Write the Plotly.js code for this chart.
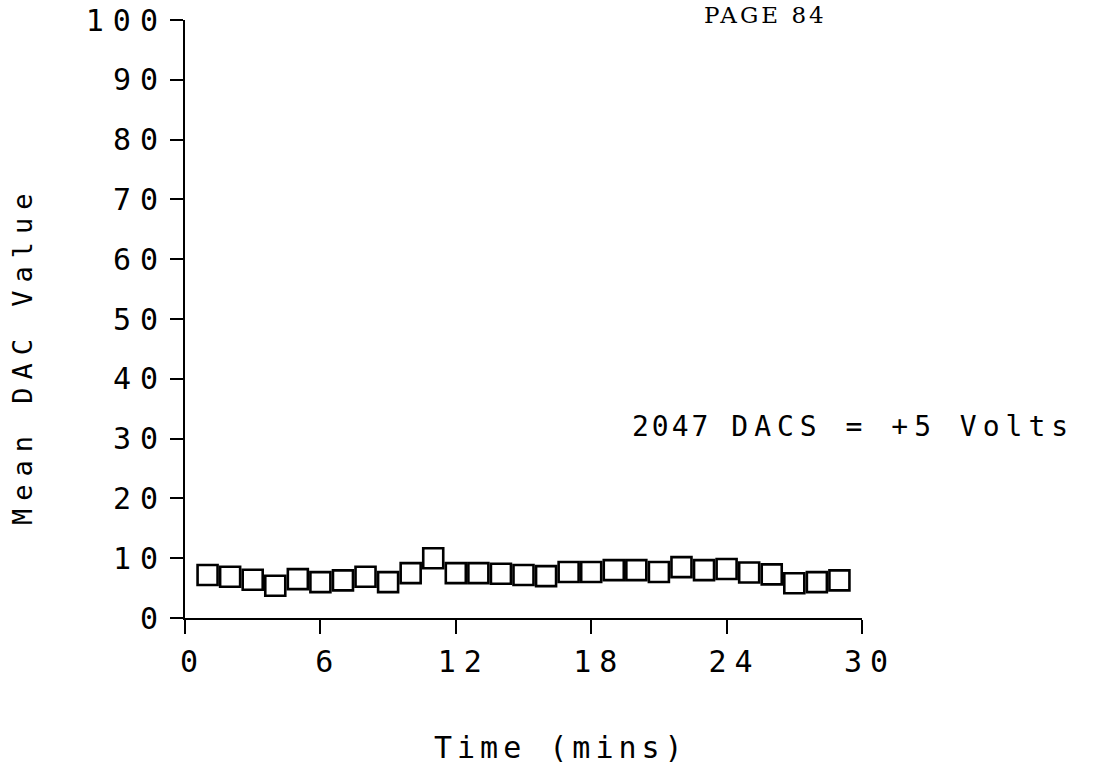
<!DOCTYPE html>
<html><head><meta charset="utf-8">
<script src="https://cdn.plot.ly/plotly-3.0.1.min.js"></script>
<style>body{margin:0;background:#fff}#c{width:1104px;height:768px}</style>
</head><body><div id="c"></div>
<script>
var timeMins = [1,2,3,4,5,6,7,8,9,10,11,12,13,14,15,16,17,18,19,20,21,22,23,24,25,26,27,28,29];
var meanDac = [7.2,6.9,6.4,5.4,6.5,6.0,6.3,6.9,6.0,7.5,10.0,7.5,7.5,7.4,7.2,7.0,7.7,7.7,8.0,8.0,7.7,8.5,8.0,8.2,7.6,7.3,5.8,6.0,6.3];
var xTicks = [0,6,12,18,24,30];
var yTicks = [0,10,20,30,40,50,60,70,80,90,100];
var xTitle = 'Time (mins)';
var yTitle = 'Mean DAC Value';
var noteNum = '2047';
var noteText = 'DACS = +5 Volts';
var pageLabel = 'PAGE 84';

var font = "DejaVu Sans Mono, monospace";
function spaced(s, px) { return '<span style="letter-spacing:' + px + 'px">' + s + '</span>'; }

var trace = {
  x: timeMins, y: meanDac, mode: 'markers', type: 'scatter',
  marker: {symbol: 'square-open', size: 20, color: '#000', line: {width: 2.6, color: '#000'}},
  hoverinfo: 'none'
};
var layout = {
  width: 1104, height: 768,
  margin: {l: 185, r: 242, t: 20, b: 150},
  paper_bgcolor: '#fff', plot_bgcolor: '#fff',
  showlegend: false,
  xaxis: {range: [0, 30], tickvals: xTicks, ticktext: xTicks.map(function (v) { return spaced(String(v), 8); }),
    ticks: 'outside', ticklen: 14, tickwidth: 2, tickcolor: '#000',
    showline: true, linewidth: 2, linecolor: '#000', showgrid: false, zeroline: false,
    tickfont: {family: font, size: 30, color: '#000'}, ticklabelstandoff: 2, ticklabelshift: 8},
  yaxis: {range: [0, 100], tickvals: yTicks, ticktext: yTicks.map(function (v) { return spaced(String(v), 9); }),
    ticks: 'outside', ticklen: 13, tickwidth: 2, tickcolor: '#000',
    showline: true, linewidth: 2, linecolor: '#000', showgrid: false, zeroline: false,
    tickfont: {family: font, size: 30, color: '#000'}, ticklabelstandoff: -3},
  annotations: [
    {text: spaced(pageLabel, 3), xref: 'paper', yref: 'paper', x: 0.857, y: 1.008, xanchor: 'center', yanchor: 'middle',
      showarrow: false, font: {family: 'DejaVu Serif, serif', size: 23, color: '#000'}},
    {text: spaced(noteNum + ' ', 3) + spaced(noteText, 6), xref: 'x', yref: 'y', x: 19.7, y: 32,
      xanchor: 'left', yanchor: 'middle', showarrow: false, font: {family: font, size: 28, color: '#000'}},
    {text: spaced(yTitle, 8), xref: 'paper', yref: 'paper', x: -0.239, y: 0.44, xanchor: 'center', yanchor: 'middle',
      textangle: -90, showarrow: false, font: {family: font, size: 27, color: '#000'}},
    {text: spaced(xTitle, 5), xref: 'paper', yref: 'paper', x: 0.555, y: -0.217, xanchor: 'center', yanchor: 'middle',
      showarrow: false, font: {family: font, size: 30, color: '#000'}}
  ]
};
Plotly.newPlot('c', [trace], layout, {staticPlot: true});
</script></body></html>
